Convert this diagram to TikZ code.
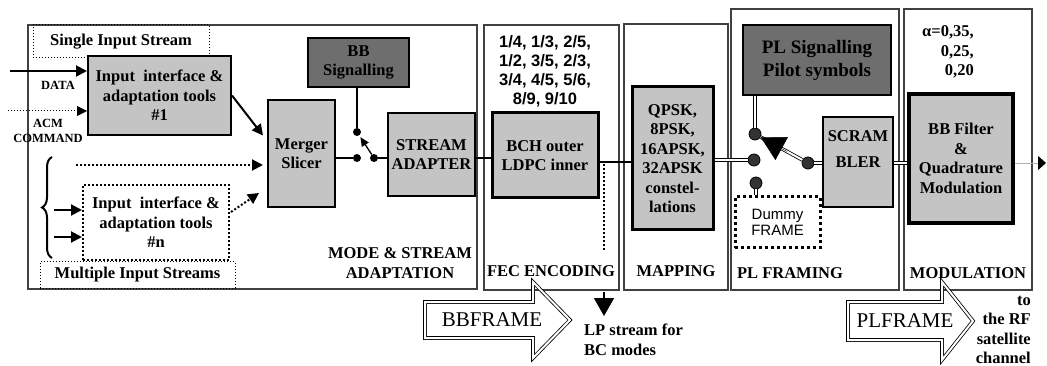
\documentclass[tikz,border=0pt]{standalone}
\usepackage{fontspec}
\setmainfont{Liberation Serif}
\newfontfamily\arialfont{Liberation Sans}
\usetikzlibrary{arrows.meta,decorations.pathreplacing,calc}
\definecolor{boxgray}{HTML}{C4C4C4}
\definecolor{siggray}{HTML}{6E6E6E}
\definecolor{dotgray}{HTML}{333333}

\begin{document}
\begin{tikzpicture}[x=1pt,y=-1pt]
    \tikzset{
      boxsize/.style 2 args={minimum width=#1, minimum height=#2},
      stage/.style={draw=black!75, line width=1.3pt, inner sep=0pt},
      block/.style={draw=black, line width=2pt, fill=boxgray, align=center, inner sep=0pt, font=\bfseries\fontsize{16.5}{19.5}\selectfont},
      sigblock/.style={block, fill=siggray, line width=1.5pt},
      dotbox/.style={draw=black, dotted, line width=1pt, align=center, inner sep=0pt, font=\bfseries\fontsize{16.5}{19.5}\selectfont},
      stagetext/.style={align=center, inner sep=0pt, font=\bfseries\fontsize{16.5}{19.5}\selectfont},
      smalltext/.style={align=center, inner sep=0pt, font=\bfseries\fontsize{12.5}{15}\selectfont},
      bigtext/.style={inner sep=0pt, font=\fontsize{21}{24}\selectfont},
      flow/.style={line width=1.3pt},
      feed/.style={-{Triangle[length=11pt,width=11pt]}, line width=2pt},
      pipe/.style={double, double distance=2pt, line width=0.8pt},
      swdot/.style={circle, fill=black, inner sep=0pt, minimum size=8pt},
      pldot/.style={circle, draw=black, fill=dotgray, line width=0.8pt, inner sep=0pt, minimum size=12pt}
    }
    \useasboundingbox (0,0) rectangle (1047,366);

    % stages
    \draw (252.5,157) node (mode) [stage, boxsize={449pt}{264pt}] {};
    \draw (551.5,157.5) node (fec) [stage, boxsize={135pt}{265pt}] {};
    \draw (676,157) node (mapping) [stage, boxsize={104pt}{266pt}] {};
    \draw (815,149.5) node (plframing) [stage, boxsize={168pt}{281pt}] {};
    \draw (968,149.5) node (modulation) [stage, boxsize={128pt}{281pt}] {};
    \draw (400,263) node (modetxt) [stagetext] {MODE \& STREAM\\ADAPTATION};
    \draw (551,271) node (fectxt) [stagetext] {FEC ENCODING};
    \draw (676,271) node (maptxt) [stagetext] {MAPPING};
    \draw (790,273) node (pltxt) [stagetext] {PL FRAMING};
    \draw (968,273) node (modtxt) [stagetext] {MODULATION};

    % mode & stream adaptation
    \draw (121,41.5) node (single) [dotbox, boxsize={176pt}{33pt}] {Single Input Stream};
    \draw (159.5,95.5) node (iface1) [block, boxsize={143pt}{79pt}] {Input\ \ interface \&\\adaptation tools\\\#1};
    \draw (156,222.5) node (ifacen) [dotbox, line width=2pt, dash pattern=on 2pt off 2pt, boxsize={146pt}{75pt}] {Input\ \ interface \&\\adaptation tools\\\#n};
    \draw (137.5,275) node (multi) [dotbox, boxsize={195pt}{26pt}] {Multiple Input Streams};
    \draw (301.5,153.5) node (merger) [block, boxsize={67pt}{107pt}] {Merger\\Slicer};
    \draw (358.5,62.5) node (bbsig) [sigblock, boxsize={101pt}{49pt}] {BB\\Signalling};
    \draw (431.5,154.5) node (adapter) [block, boxsize={87pt}{83pt}] {STREAM\\ADAPTER};
    \draw (58,85) node (datatxt) [smalltext] {DATA};
    \draw (48,131) node (acmtxt) [smalltext] {ACM\\COMMAND};

    \coordinate (datain) at (10,71);
    \coordinate (acmin) at (8,111);
    \coordinate (strm2) at (76,165);
    \coordinate (brA) at (54,210);
    \coordinate (brB) at (54,237);
    \draw[feed] (datain) -- (datain -| iface1.west);
    \draw[-{Triangle[length=10pt,width=10pt]}, line width=1pt, dotted] (acmin) -- (acmin -| iface1.west);
    \draw[feed] (iface1.east) -- ($(merger.west)+(-4,-18)$);
    \draw[feed, dotted, shorten >=4pt] (strm2) -- (strm2 -| merger.west);
    \draw[feed, dotted] ($(ifacen.east)+(1,-10.5)$) -- ($(merger.west)+(-8,39.5)$);
    \draw[line width=2pt, decorate, decoration={brace, amplitude=10pt}] (52,258) -- (52,157);
    \draw[feed] (brA) -- (brA -| ifacen.west);
    \draw[feed] (brB) -- (brB -| ifacen.west);

    \draw (357,132) node (swsig) [swdot] {};
    \draw (357,158) node (swdata) [swdot] {};
    \draw (374,158) node (swpivot) [swdot] {};
    \draw[flow] (merger.east |- swdata) -- (swdata);
    \draw[flow] (swpivot) -- (swpivot -| adapter.west);
    \draw[flow] (swsig |- bbsig.south) -- (swsig);
    \draw[flow, -{Triangle[length=9pt,width=8pt]}, shorten >=2pt] (swpivot) -- (swsig);

    % fec encoding and mapping
    \draw (545,71) node (rates) [stagetext, font=\arialfont\bfseries\fontsize{16.5}{19}\selectfont] {1/4, 1/3, 2/5,\\1/2, 3/5, 2/3,\\3/4, 4/5, 5/6,\\8/9, 9/10};
    \draw (545,155.5) node (bch) [block, line width=3pt, boxsize={106pt}{85pt}] {BCH outer\\LDPC inner};
    \draw (672.5,158.5) node (qpsk) [block, line width=3pt, boxsize={81pt}{143pt}] {QPSK,\\8PSK,\\16APSK,\\32APSK\\constel-\\lations};
    \coordinate (mainline) at (0,162);
    \draw[flow] (adapter.east |- swpivot) -- (bch.west |- swpivot);
    \draw[flow] (bch.east |- mainline) -- (qpsk.west |- mainline);

    \coordinate (lptap) at (604,164);
    \coordinate (lpend) at (604,250);
    \coordinate (lpfrom) at (604,292);
    \coordinate (lpto) at (604,316);
    \draw[line width=2pt, dotted] (lptap) -- (lpend);
    \draw[line width=1.5pt, -{Triangle[length=18pt,width=20pt]}] (lpfrom) -- (lpto);
    \draw (584,340) node (lptxt) [stagetext, anchor=west, align=left] {LP stream for\\BC modes};

    % pl framing
    \draw (817,60) node (plsig) [sigblock, font=\bfseries\fontsize{19}{23}\selectfont, boxsize={148pt}{70pt}] {PL Signalling\\Pilot symbols};
    \draw (777.5,222.5) node (dummy) [dotbox, line width=3pt, dash pattern=on 3pt off 3pt, font=\arialfont\fontsize{15}{16.5}\selectfont, boxsize={85pt}{51pt}] {Dummy\\FRAME};
    \draw (858,162) node (scram) [block, line width=1.5pt, boxsize={70pt}{90pt}] {SCRAM\\[6pt]BLER\\[6pt]~};
    \draw (755,134) node (plsigdot) [pldot] {};
    \draw (754,160) node (pldata) [pldot] {};
    \draw (756,183) node (pldummy) [pldot] {};
    \draw (808,163) node (plpivot) [pldot] {};
    \draw[pipe] (qpsk.east |- pldata) -- (pldata);
    \draw[pipe] (plsigdot |- plsig.south) -- (plsigdot);
    \draw[pipe] (pldummy) -- (pldummy |- dummy.north);
    \draw[pipe] (plpivot) -- (plpivot -| scram.west);
    \draw[pipe] (plpivot) -- (plsigdot);
    \draw[-{Triangle[length=24pt,width=26pt]}] ($(plsigdot)!0.6!(plpivot)$) -- (plsigdot);

    % modulation
    \draw (974,52) node (alpha) [stagetext, anchor=east, align=right] {α=0,35,\\0,25,\\0,20};
    \draw (961,158.5) node (bbfilt) [block, line width=3.5pt, boxsize={104pt}{129pt}] {BB Filter\\\&\\Quadrature\\Modulation};
    \draw[pipe] (scram.east |- plpivot) -- (bbfilt.west |- plpivot);
    \coordinate (rfout) at (1046,163);
    \draw[gray!60, line width=0.8pt, -{Triangle[length=8pt,width=14pt,color=black]}] (bbfilt.east |- rfout) -- (rfout);

    % frame arrows
    \draw[pipe] (425,302) -- (533,302) -- (533,282) -- (570,320) -- (533,358) -- (533,338) -- (425,338) -- cycle;
    \draw (492,320) node (bbframe) [bigtext] {BBFRAME};
    \draw[pipe] (848,302) -- (942,302) -- (942,282) -- (973,321) -- (942,360) -- (942,340) -- (848,340) -- cycle;
    \draw (905,321) node (plframe) [bigtext] {PLFRAME};
    \draw (1031,330) node (rftxt) [stagetext, anchor=east, align=right] {to\\the RF\\satellite\\channel};

  \end{tikzpicture}
\end{document}
